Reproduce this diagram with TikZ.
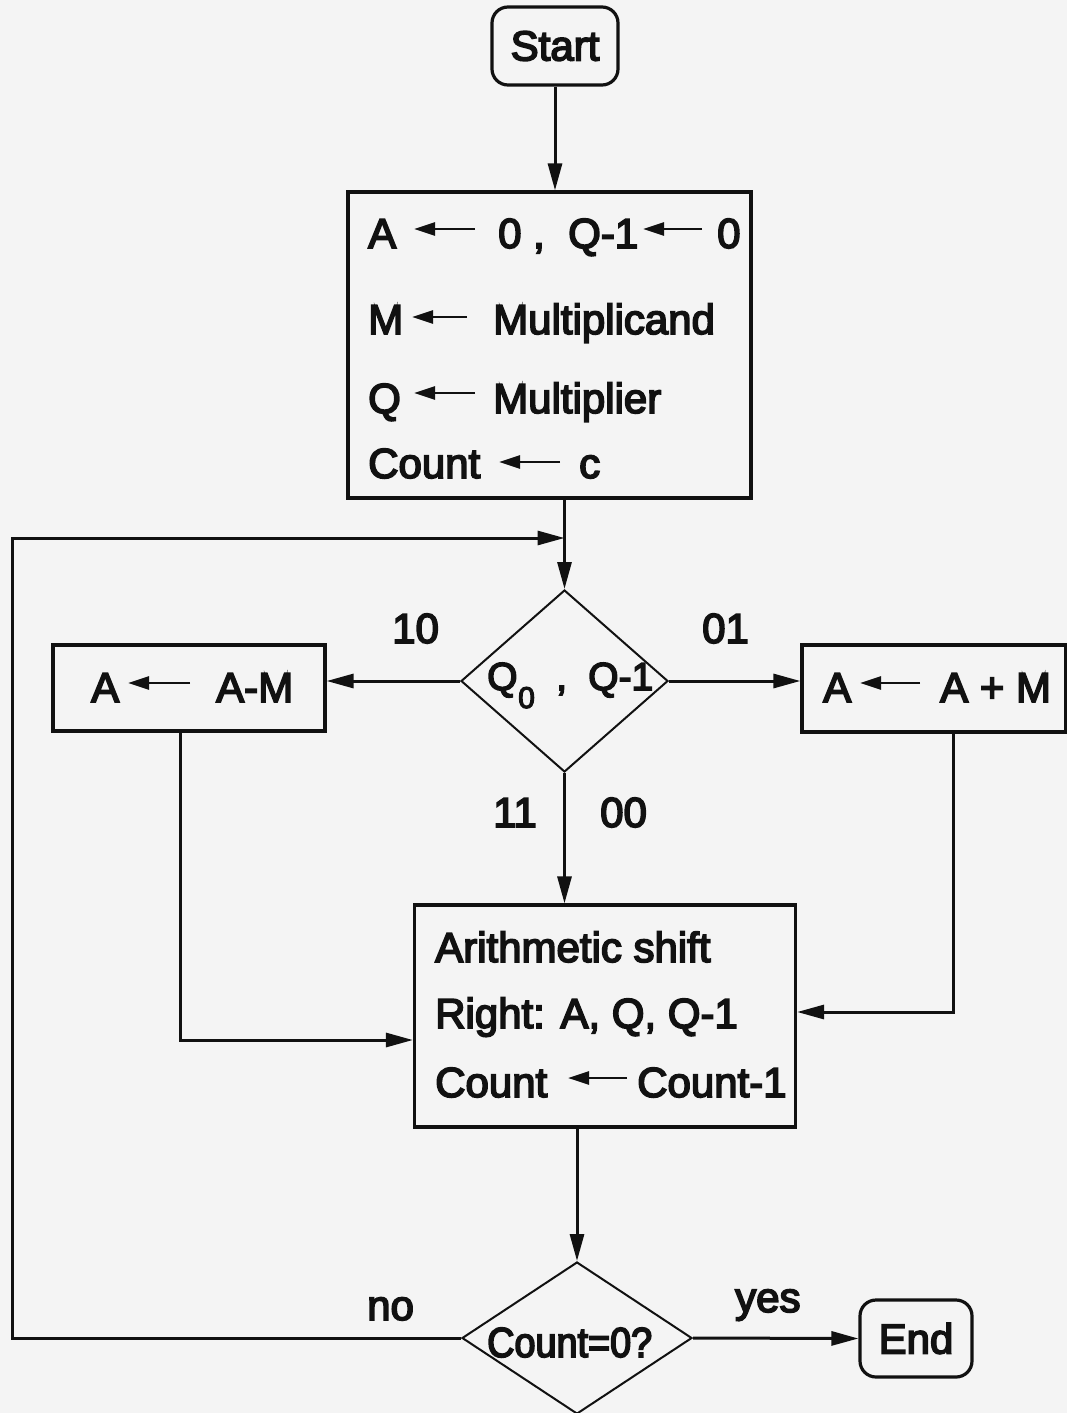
\documentclass[tikz,border=0pt]{standalone}
\usepackage{fontspec}
\newfontfamily\dfont{Liberation Sans}[FakeBold=4]
\newfontfamily\dcond{Liberation Sans}[FakeBold=4,FakeStretch=0.9]
\usetikzlibrary{arrows.meta,shapes.geometric}
\definecolor{bgc}{HTML}{F4F4F4}
\definecolor{ink}{HTML}{111111}
\newcommand\bigtxt{\dfont\fontsize{42pt}{48pt}\selectfont}
\newcommand\dtxt{\dfont\fontsize{39pt}{44pt}\selectfont}
\newcommand\stxt{\dfont\fontsize{30pt}{34pt}\selectfont}
\newcommand\ctxt{\dcond\fontsize{42pt}{48pt}\selectfont}
\begin{document}
\begin{tikzpicture}[x=1pt,y=-1pt,
  box/.style={draw=ink,line width=3.2pt,inner sep=0pt},
  rbox/.style={box,rounded corners=16pt},
  dia/.style={diamond,draw=ink,line width=2pt,inner sep=0pt},
  arr/.style={draw=ink,line width=3pt,-{Triangle[length=27pt,width=14pt]}},
  sarr/.style={draw=ink,line width=2.6pt,-{Triangle[length=21pt,width=13pt]}},
  txt/.style={anchor=base west,inner sep=0pt,text=ink,font=\bigtxt},
]
\useasboundingbox (0,0) rectangle (1067,1413);
\fill[bgc] (0,0) rectangle (1067,1413);

% shapes
\node[rbox,minimum width=126pt,minimum height=78pt,font=\bigtxt,text=ink] (start) at (555,46) {Start};
\node[box,minimum width=403pt,minimum height=306pt] (init) at (549.5,345) {};
\node[dia,minimum width=207pt,minimum height=182pt] (dec) at (564.5,681) {};
\node[box,minimum width=272pt,minimum height=86pt] (sub) at (189,688) {};
\node[box,minimum width=264pt,minimum height=87pt] (add) at (934,688.5) {};
\node[box,minimum width=381pt,minimum height=222pt] (shift) at (605,1016) {};
\node[dia,minimum width=230pt,minimum height=152pt] (dec2) at (577,1338) {};
\node[rbox,minimum width=112pt,minimum height=77pt,font=\bigtxt,text=ink] (endn) at (916,1338.5) {End};

% init box text
\node[txt] (i1a) at (368,248) {A};
\node[txt] (i1b) at (498,248) {0 ,};
\node[txt] (i1c) at (568,248) {Q-1};
\node[txt] (i1d) at (717,248) {0};
\node[txt] (i2a) at (368,334) {M};
\node[txt] (i2b) at (493,334) {Multiplicand};
\node[txt] (i3a) at (368,413) {Q};
\node[txt] (i3b) at (493,413) {Multiplier};
\node[txt] (i4a) at (368,478) {Count};
\node[txt] (i4b) at (579,478) {c};
\draw[sarr] (475,229) -- (414,229);
\draw[sarr] (702,229) -- (643,229);
\draw[sarr] (467,317) -- (412,317);
\draw[sarr] (475,393) -- (414,393);
\draw[sarr] (560,462) -- (499,462);

% sub / add text
\node[txt] (s1) at (91,702) {A};
\node[txt] (s2) at (216,702) {A-M};
\draw[sarr] (190,683) -- (128,683);
\node[txt] (a1) at (823,702) {A};
\node[txt] (a2) at (940,702) {A + M};
\draw[sarr] (920,683) -- (860,683);

% shift box text
\node[txt] (h1) at (435,962) {Arithmetic shift};
\node[txt] (h2) at (435,1028) {Right: A, Q, Q-1};
\node[txt] (h3) at (435,1097) {Count};
\node[txt] (h4) at (637,1097) {Count-1};
\draw[sarr] (627,1078) -- (568,1078);

% decision texts
\node[txt,font=\dtxt] (d1) at (487,690) {Q};
\node[txt,font=\stxt] (d2) at (518,708) {0};
\node[txt,font=\dtxt] (d3) at (556,690) {,};
\node[txt,font=\dtxt] (d4) at (588,690) {Q-1};
\node[txt,font=\ctxt] (e1) at (487,1357) {Count=0?};

% branch labels
\node[txt] (l10) at (392,643) {10};
\node[txt] (l01) at (702,643) {01};
\node[txt] (l11) at (493,827) {11};
\node[txt] (l00) at (600,827) {00};
\node[txt] (lno) at (367,1320) {no};
\node[txt] (lyes) at (735,1312) {yes};

% connectors
\coordinate (lpL) at (12,538);
\draw[arr] (start.south) -- (start.south |- init.north);
\draw[arr] (init.south -| dec.north) -- (dec.north);
\draw[arr] (dec2.west) -| (lpL) -- (dec.north |- lpL);
\draw[arr] (dec.west) -- (dec.west -| sub.east);
\draw[arr] (dec.east) -- (dec.east -| add.west);
\draw[arr] (dec.south) -- (dec.south |- shift.north);
\draw[arr] ([xshift=-9pt]sub.south) |- ([yshift=-24pt]shift.west);
\draw[arr] ([xshift=19pt]add.south) |- ([yshift=4pt]shift.east);
\draw[arr] (dec2.north |- shift.south) -- (dec2.north);
\draw[arr] (dec2.east) -- (endn.west);
\end{tikzpicture}
\end{document}
